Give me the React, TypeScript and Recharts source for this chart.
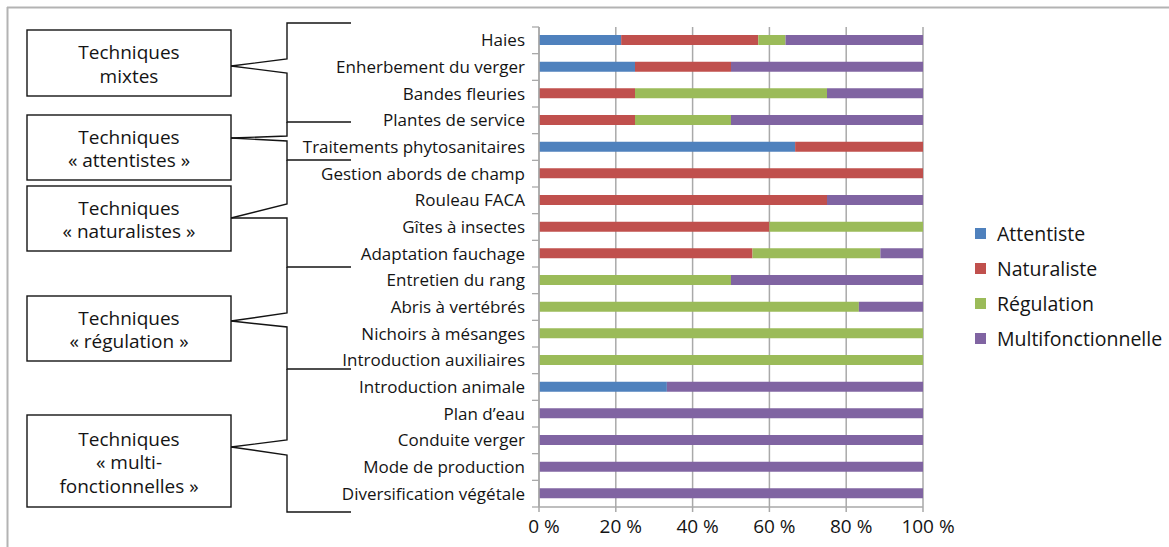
import { BarChart, Bar, XAxis, YAxis, CartesianGrid, Legend } from 'recharts';

const categories = [
  'Haies',
  'Enherbement du verger',
  'Bandes fleuries',
  'Plantes de service',
  'Traitements phytosanitaires',
  'Gestion abords de champ',
  'Rouleau FACA',
  'Gîtes à insectes',
  'Adaptation fauchage',
  'Entretien du rang',
  'Abris à vertébrés',
  'Nichoirs à mésanges',
  'Introduction auxiliaires',
  'Introduction animale',
  'Plan d’eau',
  'Conduite verger',
  'Mode de production',
  'Diversification végétale',
];

const attentiste = [21.4, 25, 0, 0, 66.7, 0, 0, 0, 0, 0, 0, 0, 0, 33.3, 0, 0, 0, 0];
const naturaliste = [35.7, 25, 25, 25, 33.3, 100, 75, 60, 55.6, 0, 0, 0, 0, 0, 0, 0, 0, 0];
const regulation = [7.1, 0, 50, 25, 0, 0, 0, 40, 33.3, 50, 83.3, 100, 100, 0, 0, 0, 0, 0];
const multi = [35.8, 50, 25, 50, 0, 0, 25, 0, 11.1, 50, 16.7, 0, 0, 66.7, 100, 100, 100, 100];

const xTicks = [0, 20, 40, 60, 80, 100];

const series = [
  { key: 'attentiste', name: 'Attentiste', color: '#4f81bd' },
  { key: 'naturaliste', name: 'Naturaliste', color: '#c0504d' },
  { key: 'regulation', name: 'Régulation', color: '#9bbb59' },
  { key: 'multi', name: 'Multifonctionnelle', color: '#8064a2' },
];

const groups = [
  { y: 30, h: 66, lines: ['Techniques', 'mixtes'] },
  { y: 115, h: 65, lines: ['Techniques', '« attentistes »'] },
  { y: 186, h: 65, lines: ['Techniques', '« naturalistes »'] },
  { y: 296, h: 65, lines: ['Techniques', '« régulation »'] },
  { y: 415, h: 92, lines: ['Techniques', '« multi-', 'fonctionnelles »'] },
];

// bracket connectors (decoration, not data)
const brackets = [
  '231,66 287,59 287,23 351,23',
  '231,66 287,73 287,122 351,122',
  '231,138 287,136 287,122',
  '231,138 287,141 287,160 351,160',
  '231,218 287,204 287,160',
  '231,218 287,218 287,267 351,267',
  '231,321 287,313 287,267',
  '231,321 287,327 287,369 351,369',
  '231,447 287,440 287,369',
  '231,447 287,455 287,512 351,512',
];

const data = categories.map((name, i) => ({
  name,
  attentiste: attentiste[i],
  naturaliste: naturaliste[i],
  regulation: regulation[i],
  multi: multi[i],
}));

const FONT = '"Open Sans", sans-serif';
const GRID = '#a9a9a9';
const INK = '#141414';
const PLOT_LEFT = 539;
const BAND = 480 / categories.length;

const CatTick = (props: any) => {
  const { y, payload, index } = props;
  return (
    <g>
      <line x1={PLOT_LEFT - 7} x2={PLOT_LEFT} y1={y - BAND / 2} y2={y - BAND / 2} stroke={GRID} strokeWidth={1.3} />
      {index === categories.length - 1 && (
        <line x1={PLOT_LEFT - 7} x2={PLOT_LEFT} y1={y + BAND / 2} y2={y + BAND / 2} stroke={GRID} strokeWidth={1.3} />
      )}
      <text x={PLOT_LEFT - 14} y={y} dy="0.35em" textAnchor="end" fontSize={17} fill={INK} fontFamily={FONT}>
        {payload.value}
      </text>
    </g>
  );
};

const LegendBox = () => (
  <div style={{ fontFamily: FONT, fontSize: 19.5, color: INK, whiteSpace: 'nowrap' }}>
    {series.map((s) => (
      <div key={s.key} style={{ display: 'flex', alignItems: 'center', height: 35 }}>
        <span style={{ width: 11, height: 11, flexShrink: 0, background: s.color, marginRight: 11, display: 'inline-block' }} />
        <span>{s.name}</span>
      </div>
    ))}
  </div>
);

export default function App() {
  return (
    <div style={{ position: 'absolute', left: 0, top: 0, width: 1169, height: 547, background: '#fff', overflow: 'hidden' }}>
      <BarChart
        width={1169}
        height={547}
        data={data}
        layout="vertical"
        margin={{ top: 27, right: 246, bottom: 10, left: 0 }}
        barSize={10}
      >
        <CartesianGrid horizontal={false} stroke={GRID} strokeWidth={1.5} />
        <XAxis
          type="number"
          domain={[0, 100]}
          ticks={xTicks}
          tickFormatter={(v) => `${v} %`}
          axisLine={{ stroke: GRID, strokeWidth: 1.5 }}
          tickLine={{ stroke: GRID, strokeWidth: 1.5 }}
          tickSize={5}
          tickMargin={8}
          height={30}
          tick={{ fontSize: 19, fill: INK, fontFamily: FONT, dx: 5 }}
        />
        <YAxis
          type="category"
          dataKey="name"
          width={PLOT_LEFT}
          interval={0}
          axisLine={{ stroke: GRID, strokeWidth: 1.5 }}
          tickLine={false}
          tick={<CatTick />}
        />
        <Legend
          layout="vertical"
          align="center"
          verticalAlign="middle"
          wrapperStyle={{ position: 'absolute', left: 975, top: 216, width: 194 }}
          content={<LegendBox />}
        />
        {series.map((s) => (
          <Bar key={s.key} dataKey={s.key} name={s.name} stackId="a" fill={s.color} isAnimationActive={false} />
        ))}
      </BarChart>
      <svg width={1169} height={547} style={{ position: 'absolute', left: 0, top: 0, pointerEvents: 'none' }}>
        <line x1={7} x2={1169} y1={7.5} y2={7.5} stroke="#b3b3b3" strokeWidth={2} />
        <line x1={7.5} x2={7.5} y1={7} y2={547} stroke="#b3b3b3" strokeWidth={2} />
        {brackets.map((pts, i) => (
          <polyline key={i} points={pts} fill="none" stroke={INK} strokeWidth={1.4} />
        ))}
        {groups.map((g, i) => {
          const cy = g.y + g.h / 2 + 1.5;
          const lh = 23.5;
          const start = cy - ((g.lines.length - 1) * lh) / 2;
          return (
            <g key={i}>
              <rect x={27} y={g.y} width={204} height={g.h} fill="#fff" stroke={INK} strokeWidth={1.4} />
              {g.lines.map((t, j) => (
                <text
                  key={j}
                  x={129}
                  y={start + j * lh}
                  dy="0.35em"
                  textAnchor="middle"
                  fontSize={19}
                  fill={INK}
                  fontFamily={FONT}
                >
                  {t}
                </text>
              ))}
            </g>
          );
        })}
      </svg>
    </div>
  );
}
